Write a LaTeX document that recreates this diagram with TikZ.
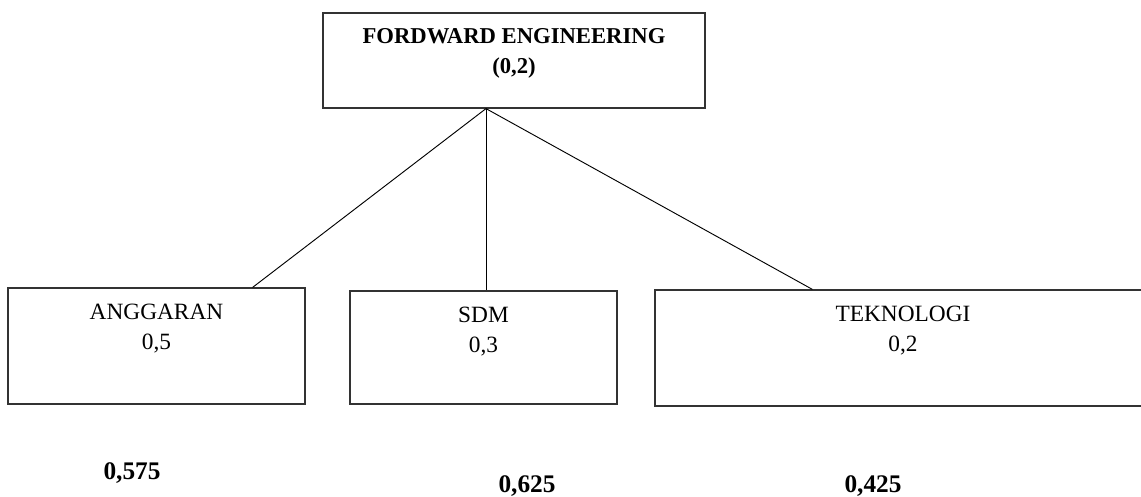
\documentclass[tikz,border=0pt]{standalone}
\usepackage{fontspec}
\setmainfont{Liberation Serif}
\usetikzlibrary{positioning}

\tikzset{
  kotak/.style={draw=black!80, line width=0.9pt, inner sep=0pt},
  teks/.style={inner sep=0pt, align=center, font=\fontsize{17.5}{22.5}\selectfont},
  teksbold/.style={teks, font=\fontsize{17}{22}\selectfont\bfseries},
  nilai/.style={teks, font=\fontsize{19}{22}\selectfont\bfseries},
  garis/.style={line width=0.7pt}
}

\begin{document}
\begin{tikzpicture}[x=0.75pt, y=-0.75pt]
    \useasboundingbox (0,0) rectangle (1141,496);

    % Kotak utama di atas.
    \node[kotak, minimum width=286.5pt, minimum height=71.25pt] (fe) at (514,60.5) {};
    \node[teksbold, below=12pt of fe.north] (fetext) {FORDWARD ENGINEERING\\(0,2)};

    % Tiga kriteria di bawah.
    \node[kotak, minimum width=222.75pt, minimum height=87pt] (anggaran) at (156.5,346) {};
    \node[kotak, minimum width=200.25pt, minimum height=84.75pt] (sdm) at (483.5,347.5) {};
    \node[kotak, minimum width=372pt, minimum height=87pt] (teknologi) at (903,348) {};

    \node[teks, below=12.5pt of anggaran.north] (anggarantext) {ANGGARAN\\0,5};
    \node[teks, below=12pt of sdm.north] (sdmtext) {SDM\\0,3};
    \node[teks, below=12.5pt of teknologi.north] (teknologitext) {TEKNOLOGI\\0,2};

    % Garis dari kotak utama ke tiap kriteria.
    \coordinate (apex) at ([xshift=-21pt]fe.south);
    \draw[garis] (apex) -- ([xshift=-39.75pt]anggaran.north east);
    \draw[garis] (apex) -- (apex |- sdm.north);
    \draw[garis] (apex) -- ([xshift=118.5pt]teknologi.north west);

    % Nilai akhir.
    \node[nilai] (nilaianggaran) at (132,473) {0,575};
    \node[nilai] (nilaisdm) at (527,486) {0,625};
    \node[nilai] (nilaiteknologi) at (873,486) {0,425};
  \end{tikzpicture}
\end{document}
